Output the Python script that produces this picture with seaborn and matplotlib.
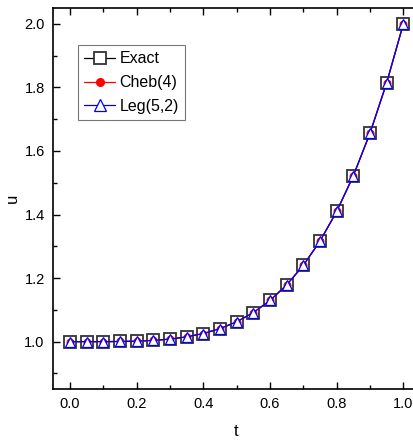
import matplotlib
matplotlib.use("Agg")
import matplotlib.pyplot as plt
import seaborn as sns
from matplotlib.ticker import MultipleLocator

t = [0.0, 0.05, 0.1, 0.15, 0.2, 0.25, 0.3, 0.35, 0.4, 0.45, 0.5,
     0.55, 0.6, 0.65, 0.7, 0.75, 0.8, 0.85, 0.9, 0.95, 1.0]
u_exact = [1.0, 1.0, 1.0001, 1.0005, 1.0016, 1.0039, 1.0081, 1.015, 1.0256, 1.041, 1.0625,
           1.0915, 1.1296, 1.1785, 1.2401, 1.3164, 1.4096, 1.522, 1.6561, 1.8145, 2.0]
u_cheb = [1.0, 1.0, 1.0001, 1.0005, 1.0016, 1.0039, 1.0081, 1.015, 1.0256, 1.041, 1.0625,
          1.0915, 1.1296, 1.1785, 1.2401, 1.3164, 1.4096, 1.522, 1.6561, 1.8145, 2.0]
u_leg = [1.0, 1.0, 1.0001, 1.0005, 1.0016, 1.0039, 1.0081, 1.015, 1.0256, 1.041, 1.0625,
         1.0915, 1.1296, 1.1785, 1.2401, 1.3164, 1.4096, 1.522, 1.6561, 1.8145, 2.0]

sns.set_style("ticks")
plt.rcParams['font.family'] = ['Liberation Sans', 'DejaVu Sans']
plt.rcParams['text.color'] = 'black'
plt.rcParams['axes.labelcolor'] = 'black'
plt.rcParams['xtick.color'] = 'black'
plt.rcParams['ytick.color'] = 'black'
plt.rcParams['axes.edgecolor'] = 'black'

fig = plt.figure(figsize=(4.14, 4.44), dpi=100)
ax = fig.add_axes([53 / 414, 1 - 389 / 444, 367 / 414, 381 / 444])

sns.lineplot(x=t, y=u_exact, ax=ax, color='black', lw=0.9, marker='s', markersize=8,
             markerfacecolor='white', markeredgecolor='#333333', markeredgewidth=1.3,
             label='Exact')
sns.lineplot(x=t, y=u_cheb, ax=ax, color='red', lw=0.9, marker='o', markersize=5,
             markerfacecolor='red', markeredgecolor='red', label='Cheb(4)')
sns.lineplot(x=t, y=u_leg, ax=ax, color='blue', lw=0.9, marker='^', markersize=7,
             markerfacecolor='white', markeredgecolor='blue', markeredgewidth=0.9,
             label='Leg(5,2)')

ax.set_xlim(-0.051, 1.05)
ax.set_ylim(0.851, 2.05)
ax.xaxis.set_major_locator(MultipleLocator(0.2))
ax.xaxis.set_minor_locator(MultipleLocator(0.1))
ax.yaxis.set_major_locator(MultipleLocator(0.2))
ax.yaxis.set_minor_locator(MultipleLocator(0.1))
ax.tick_params(which='both', direction='in', top=True, right=True, labelsize=10.5, width=1)
ax.tick_params(which='major', length=5, pad=6)
ax.tick_params(which='minor', length=3)
for s in ax.spines.values():
    s.set_linewidth(1.2)

ax.set_xlabel('t', fontsize=12, labelpad=9)
ax.set_ylabel('u', fontsize=12, labelpad=3)

leg = ax.legend(loc='upper left', bbox_to_anchor=(0.068, 0.903), borderaxespad=0,
                fontsize=11.5, frameon=True, fancybox=False, edgecolor='#777777',
                framealpha=1, handlelength=1.9, handletextpad=0.3, borderpad=0.4,
                labelspacing=0.55, markerscale=1.15)
leg.get_frame().set_linewidth(0.8)

fig.savefig('out.png', dpi=100)
